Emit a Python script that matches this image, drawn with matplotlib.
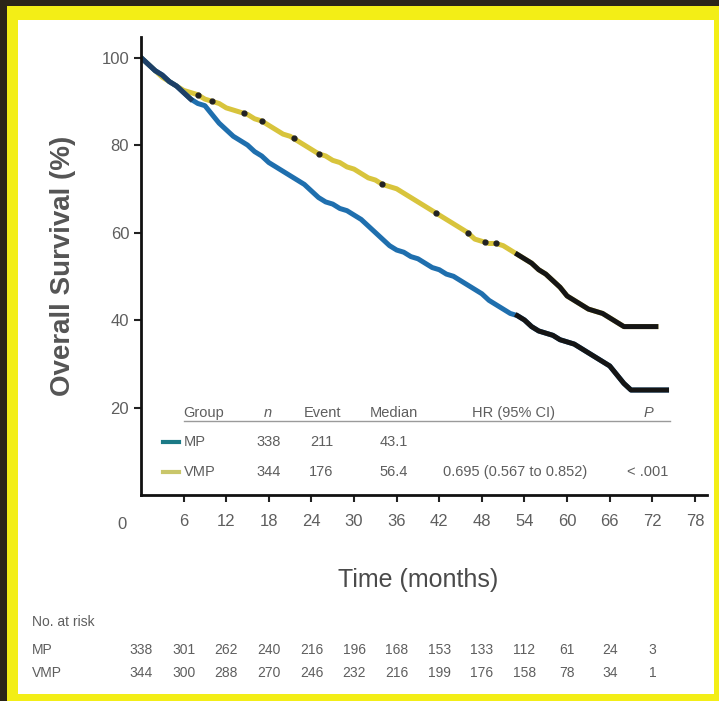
import matplotlib.pyplot as plt
from matplotlib.patches import Rectangle
import numpy as np

# survival curves (months, %)
mp_time = [0, 1, 2, 3, 4, 5, 6, 7, 8, 9, 10, 11, 12, 13, 14, 15, 16, 17, 18, 19, 20,
           21, 22, 23, 24, 25, 26, 27, 28, 29, 30, 31, 32, 33, 34, 35, 36, 37, 38, 39,
           40, 41, 42, 43, 44, 45, 46, 47, 48, 49, 50, 51, 52, 53, 54, 55, 56, 57, 58,
           59, 60, 61, 62, 63, 64, 65, 66, 67, 68, 69, 74]
mp_surv = [100, 98.5, 97, 96, 94.5, 93.5, 92, 90.5, 89.5, 89, 87, 85, 83.5, 82, 81, 80,
           78.5, 77.5, 76, 75, 74, 73, 72, 71, 69.5, 68, 67, 66.5, 65.5, 65, 64, 63, 61.5,
           60, 58.5, 57, 56, 55.5, 54.5, 54, 53, 52, 51.5, 50.5, 50, 49, 48, 47, 46, 44.5,
           43.5, 42.5, 41.5, 41, 40, 38.5, 37.5, 37, 36.5, 35.5, 35, 34.5, 33.5, 32.5,
           31.5, 30.5, 29.5, 27.5, 25.5, 24, 24]

vmp_time = [0, 1, 2, 3, 4, 5, 6, 7, 8, 9, 10, 11, 12, 13, 14, 15, 16, 17, 18, 19, 20,
            21, 22, 23, 24, 25, 26, 27, 28, 29, 30, 31, 32, 33, 34, 35, 36, 37, 38, 39,
            40, 41, 42, 43, 44, 45, 46, 47, 48, 49, 50, 51, 52, 53, 54, 55, 56, 57, 58,
            59, 60, 61, 62, 63, 64, 65, 66, 67, 68, 72.5]
vmp_surv = [100, 98.5, 97, 95.5, 94.5, 93.5, 92.5, 92, 91.5, 90.5, 90, 89.5, 88.5, 88,
            87.5, 87, 86, 85.5, 84.5, 83.5, 82.5, 82, 81, 80, 79, 78, 77.5, 76.5, 76, 75,
            74.5, 73.5, 72.5, 72, 71, 70.5, 70, 69, 68, 67, 66, 65, 64, 63, 62, 61, 60,
            58.5, 58, 57.5, 57.5, 57, 56, 55, 54, 53, 51.5, 50.5, 49, 47.5, 45.5, 44.5,
            43.5, 42.5, 42, 41.5, 40.5, 39.5, 38.5, 38.5]
vmp_censor = [8, 10, 14.5, 17, 21.5, 25, 34, 41.5, 46, 48.5, 50]

# table values
xticks = [6, 12, 18, 24, 30, 36, 42, 48, 54, 60, 66, 72, 78]
risk_times = [0, 6, 12, 18, 24, 30, 36, 42, 48, 54, 60, 66, 72]
risk_mp = [338, 301, 262, 240, 216, 196, 168, 153, 133, 112, 61, 24, 3]
risk_vmp = [344, 300, 288, 270, 246, 232, 216, 199, 176, 158, 78, 34, 1]
groups = ["MP", "VMP"]
n_vals = ["338", "344"]
events = ["211", "176"]
medians = ["43.1", "56.4"]

narrow = ['Liberation Sans', 'DejaVu Sans']
gray = '#5e5e5e'
blue = '#1f6fae'
gold = '#d8c43c'
tail = '#151515'

W, H = 719, 701
fig = plt.figure(figsize=(W / 100, H / 100), dpi=100, facecolor='#2b2519')
fig.patches.append(Rectangle((7 / W, 0), 1, (H - 6) / H, transform=fig.transFigure,
                             facecolor='#f3ee16', edgecolor='none', zorder=-3))
fig.patches.append(Rectangle((18 / W, 7 / H), (714 - 18) / W, (H - 20 - 7) / H,
                             transform=fig.transFigure, facecolor='white',
                             edgecolor='none', zorder=-2))

ax = fig.add_axes([141 / W, 1 - 495 / H, (707 - 141) / W, (495 - 37) / H])
ax.patch.set_alpha(0)
ax.set_xlim(0, 79.7)
ax.set_ylim(0, 104.7)
ax.spines['top'].set_visible(False)
ax.spines['right'].set_visible(False)
for s in ['left', 'bottom']:
    ax.spines[s].set_linewidth(2)
    ax.spines[s].set_color('#111111')

mp_t = np.array(mp_time)
mp_s = np.array(mp_surv)
vmp_t = np.array(vmp_time)
vmp_s = np.array(vmp_surv)
cut = 53

ax.plot(vmp_t, vmp_s, color=gold, lw=3.6, solid_joinstyle='round')
k = vmp_t >= cut
ax.plot(vmp_t[k], vmp_s[k], color=tail, lw=3.6, solid_joinstyle='round')
cs = np.interp(vmp_censor, vmp_t, vmp_s)
ax.plot(vmp_censor, cs, 'o', color='#222222', ms=3.5)

ax.plot(mp_t, mp_s, color=blue, lw=3.6, solid_joinstyle='round')
k = mp_t >= cut
ax.plot(mp_t[k], mp_s[k], color=tail, lw=3.6, solid_joinstyle='round')
ax.plot(mp_t[:8], mp_s[:8], color='#1d3f66', lw=3.6, solid_joinstyle='round')

ax.set_yticks([20, 40, 60, 80, 100])
ax.set_xticks(xticks)
ax.tick_params(axis='both', direction='out', length=5, width=1.5, color='#222222',
               labelcolor=gray)
for lab in ax.get_xticklabels() + ax.get_yticklabels():
    lab.set_family(narrow)
    lab.set_fontsize(12)
ax.tick_params(axis='x', pad=9)
ax.annotate("0", xy=(0, 0), xycoords='data', xytext=(-14, -21), textcoords='offset points',
            ha='center', va='center', color=gray, fontsize=12, family=narrow)

ax.set_ylabel("Overall Survival (%)", fontsize=20, color='#555555', labelpad=18,
              family=narrow, fontweight='bold')
fig.text(418 / W, 1 - 580 / H, "Time (months)", ha='center', va='center', fontsize=18,
         color='#4a4a4a', family=narrow)

# inner table
hy, rows_y = 18.7, [12.1, 5.3]
tk = dict(color=gray, fontsize=10.5, family=narrow, va='center')
ax.text(6, hy, "Group", ha='left', **tk)
ax.text(17.8, hy, "n", ha='center', style='italic', **tk)
ax.text(25.5, hy, "Event", ha='center', **tk)
ax.text(35.6, hy, "Median", ha='center', **tk)
ax.text(52.5, hy, "HR (95% CI)", ha='center', **tk)
ax.text(71.4, hy, "P", ha='center', style='italic', **tk)
ax.plot([6, 74.5], [17.0, 17.0], color='#9a9a9a', lw=1)
for i, g in enumerate(groups):
    y = rows_y[i]
    ax.plot([3.1, 5.3], [y, y], color=['#1b7a86', '#c9c66a'][i], lw=3)
    ax.text(6, y, g, ha='left', **tk)
    ax.text(18, y, n_vals[i], ha='center', **tk)
    ax.text(25.4, y, events[i], ha='center', **tk)
    ax.text(35.6, y, medians[i], ha='center', **tk)
ax.text(52.7, rows_y[1], "0.695 (0.567 to 0.852)", ha='center', **tk)
ax.text(71.4, rows_y[1], "< .001", ha='center', **tk)

# number at risk
tr = ax.get_xaxis_transform()
fig.text(32 / W, 1 - 622 / H, "No. at risk", ha='left', va='center', color=gray,
         fontsize=10, family=narrow)
for lab, vals, py in [("MP", risk_mp, 650), ("VMP", risk_vmp, 673)]:
    fig.text(32 / W, 1 - py / H, lab, ha='left', va='center', color=gray,
             fontsize=10, family=narrow)
    for t, v in zip(risk_times, vals):
        ax.text(t, (495 - py) / (495 - 37), str(v), transform=tr, ha='center',
                va='center', color=gray, fontsize=10, family=narrow, clip_on=False)

fig.savefig("out.png", dpi=100, facecolor=fig.get_facecolor())
